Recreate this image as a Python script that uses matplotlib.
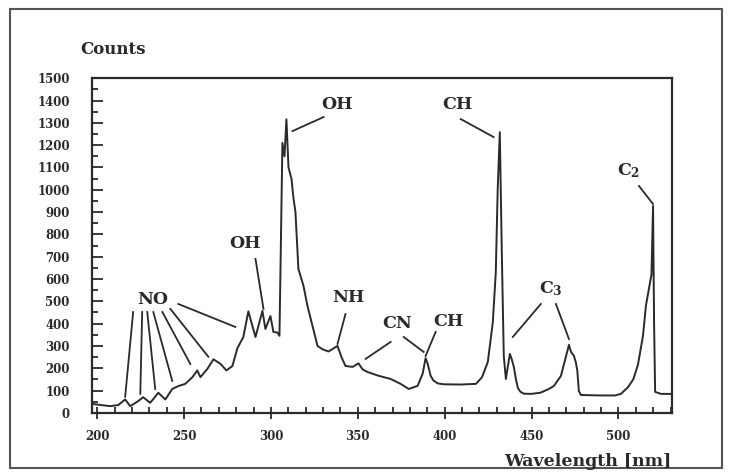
import matplotlib
matplotlib.use("Agg")
import matplotlib.pyplot as plt
from matplotlib.ticker import MultipleLocator
from matplotlib.patches import Rectangle

plt.rcParams['font.family'] = ['DejaVu Serif']
plt.rcParams['mathtext.fontset'] = 'dejavuserif'

# Spectrum
wavelength = [197.1, 207.5, 212.1, 216.1, 219.0, 223.1, 226.5, 230.5, 235.2, 239.2,
              243.2, 246.7, 250.7, 254.8, 257.6, 259.4, 263.4, 266.9, 270.9, 274.4,
              277.8, 280.7, 284.1, 287.0, 291.1, 295.1, 296.8, 299.7, 301.4, 303.7,
              304.9, 306.6, 307.8, 308.9, 310.1, 311.8, 313.0, 314.1, 315.8, 318.7,
              321.0, 323.9, 326.8, 329.7, 333.1, 338.3, 340.6, 342.9, 347.0, 350.4,
              352.7, 355.6, 362.0, 368.9, 374.6, 379.3, 384.4, 387.3, 389.0, 390.2,
              391.9, 393.5, 396.0, 399.4, 409.2, 418.0, 421.5, 424.8, 427.7, 429.4,
              430.5, 431.7, 432.9, 434.0, 435.2, 437.5, 438.6, 439.8, 441.0, 442.1,
              443.5, 445.5, 449.6, 455.0, 459.4, 462.8, 466.9, 469.7, 471.5, 472.6,
              474.4, 475.5, 476.3, 477.2, 478.4, 489.9, 498.0, 501.4, 505.5, 508.5,
              511.2, 514.1, 515.8, 517.5, 519.0, 519.9, 520.5, 521.1, 524.5, 531.4]
counts = [40, 30, 35, 60, 30, 50, 70, 45, 90, 60,
          107, 120, 130, 160, 190, 160, 197, 240, 220, 190,
          210, 290, 340, 455, 340, 457, 376, 434, 363, 360,
          345, 1210, 1150, 1316, 1100, 1050, 960, 900, 645, 570,
          480, 390, 300, 285, 275, 300, 250, 210, 206, 222,
          195, 183, 166, 152, 130, 107, 121, 175, 245, 220,
          166, 145, 132, 128, 127, 130, 160, 228, 407, 631,
          1003, 1258, 703, 255, 152, 264, 240, 205, 150, 112,
          95, 86, 85, 90, 105, 120, 166, 250, 305, 275,
          255, 225, 190, 98, 80, 78, 78, 85, 115, 150,
          215, 345, 480, 555, 620, 927, 400, 94, 85, 85]

x_ticks = [200, 250, 300, 350, 400, 450, 500]
y_ticks = list(range(0, 1600, 100))

# label, text position, list of leader lines (start, end)
labels = [
    ("NO", (231.7, 506), [((220.7, 452), (216.1, 72)), ((225.9, 452), (224.8, 85)),
                          ((228.8, 452), (233.4, 107)), ((232.3, 452), (243.2, 143)),
                          ((237.5, 452), (253.6, 219)), ((242.1, 466), (264.0, 251)),
                          ((246.7, 488), (279.5, 385))]),
    ("OH", (285.3, 757), [((291.1, 690), (295.7, 466))]),
    ("OH", (338.3, 1384), [((330.3, 1326), (312.4, 1263))]),
    ("NH", (344.7, 519), [((342.9, 443), (338.3, 309))]),
    ("CN", (372.9, 399), [((368.9, 318), (354.5, 242)), ((376.4, 340), (387.9, 273))]),
    ("CH", (402.3, 408), [((394.8, 363), (389.0, 255))]),
    ("CH", (407.5, 1384), [((409.2, 1317), (428.2, 1236))]),
    (r"$\mathbf{C_3}$", (461.1, 555), [((455.3, 488), (439.2, 340)), ((464.0, 488), (471.5, 331))]),
    (r"$\mathbf{C_2}$", (506.1, 1084), [((511.8, 1017), (519.9, 936))]),
]

ink = '#2a2a2a'
fig = plt.figure(figsize=(7.30, 4.74), dpi=100)
ax = fig.add_axes([0.126, 0.129, 0.795, 0.706])
ax.plot(wavelength, counts, color=ink, lw=1.4)
ax.set_xlim(197, 531)
ax.set_ylim(0, 1500)

for s in ax.spines.values():
    s.set_color(ink)
    s.set_linewidth(1.6)

ax.set_xticks(x_ticks)
ax.set_yticks(y_ticks)
ax.xaxis.set_minor_locator(MultipleLocator(10))
ax.yaxis.set_minor_locator(MultipleLocator(50))
ax.tick_params(axis='x', which='major', direction='inout', length=9, width=1.3,
               color=ink, pad=8, labelsize=8.5)
ax.tick_params(axis='x', which='minor', direction='in', length=4, width=1.3, color=ink)
ax.tick_params(axis='y', which='major', direction='in', length=8, width=1.3,
               color=ink, pad=16, labelsize=8.5)
ax.tick_params(axis='y', which='minor', direction='in', length=4, width=1.3, color=ink)
for lab in ax.get_xticklabels() + ax.get_yticklabels():
    lab.set_fontweight('bold')
    lab.set_color(ink)

for text, pos, lines in labels:
    ax.text(pos[0], pos[1], text, ha='center', va='center', fontsize=12.5,
            fontweight='bold', color=ink)
    for (x0, y0), (x1, y1) in lines:
        ax.plot([x0, x1], [y0, y1], color=ink, lw=1.3)

fig.text(113 / 730, 1 - 50 / 474, "Counts", ha='center', va='center',
         fontsize=12, fontweight='bold', color=ink)
fig.text(588 / 730, 1 - 461 / 474, "Wavelength [nm]", ha='center', va='center',
         fontsize=12.5, fontweight='bold', color=ink)

fig.patches.append(Rectangle((0.014, 0.012), 0.975, 0.97, transform=fig.transFigure,
                             fill=False, edgecolor='#555555', lw=1.5))

fig.savefig("out.png", dpi=100)
